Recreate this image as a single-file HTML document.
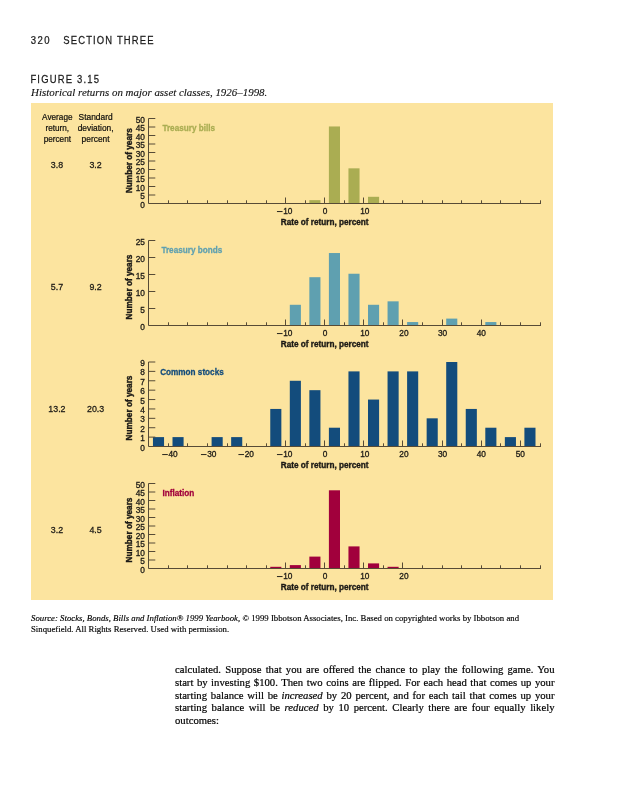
<!DOCTYPE html>
<html><head><meta charset="utf-8">
<style>
html,body{margin:0;padding:0;background:#fff;}
body{width:617px;height:800px;position:relative;overflow:hidden;}
.abs{position:absolute;white-space:nowrap;will-change:transform;}
svg{position:absolute;left:0;top:0;will-change:transform;}
svg text{font-family:"Liberation Sans",sans-serif;}
.yl{font-size:8.3px;text-anchor:end;fill:#1c1a16;stroke:#1c1a16;stroke-width:0.3px;}
.xl{font-size:8.3px;text-anchor:middle;fill:#1c1a16;stroke:#1c1a16;stroke-width:0.3px;}
.xt{font-size:9.3px;font-weight:bold;text-anchor:middle;fill:#1c1a16;stroke:#1c1a16;stroke-width:0.4px;}
.yt{font-size:9.1px;font-weight:bold;text-anchor:middle;fill:#1c1a16;stroke:#1c1a16;stroke-width:0.4px;}
.ct{font-size:9.4px;font-weight:bold;stroke-width:0.3px;}
.lh{font-size:8.6px;text-anchor:middle;fill:#0e0d0b;stroke:#0e0d0b;stroke-width:0.2px;}
.lv{font-size:8.6px;text-anchor:middle;fill:#1c1a16;stroke:#1c1a16;stroke-width:0.25px;}
.hdr{font-size:11px;fill:#1a1a1a;stroke:#1a1a1a;stroke-width:0.25px;}
.cap{font-family:"Liberation Serif",serif !important;font-style:italic;font-size:11px;fill:#111;stroke:#111;stroke-width:0.12px;}
.src{font-family:"Liberation Serif",serif;font-size:8.75px;color:#000;-webkit-text-stroke:0.15px #000;line-height:10.9px;}
.body{font-family:"Liberation Serif",serif;font-size:10.7px;color:#000;-webkit-text-stroke:0.2px #000;line-height:12.75px;width:379.5px;}
.body div{text-align:justify;text-align-last:justify;white-space:nowrap;}
.body div.last{text-align-last:left;}
</style></head><body>
<svg width="617" height="800" viewBox="0 0 617 800">
<rect x="31" y="103" width="522" height="497" fill="#FCE49F"/>
<rect x="309.35" y="200.15" width="11.10" height="3.35" fill="#AAAD52"/>
<rect x="328.90" y="126.47" width="11.10" height="77.03" fill="#AAAD52"/>
<rect x="348.45" y="168.34" width="11.10" height="35.16" fill="#AAAD52"/>
<rect x="368.00" y="196.80" width="11.10" height="6.70" fill="#AAAD52"/>
<path d="M148.5 118.50V203.50H541.0" fill="none" stroke="#574b36" stroke-width="1"/>
<text x="144.90" y="207.50" class="yl" >0</text>
<line x1="148.5" y1="195.00" x2="155.3" y2="195.00" stroke="#574b36" stroke-width="1"/>
<text x="144.90" y="199.00" class="yl" >5</text>
<line x1="148.5" y1="186.50" x2="155.3" y2="186.50" stroke="#574b36" stroke-width="1"/>
<text x="144.90" y="190.50" class="yl" >10</text>
<line x1="148.5" y1="178.00" x2="155.3" y2="178.00" stroke="#574b36" stroke-width="1"/>
<text x="144.90" y="182.00" class="yl" >15</text>
<line x1="148.5" y1="169.50" x2="155.3" y2="169.50" stroke="#574b36" stroke-width="1"/>
<text x="144.90" y="173.50" class="yl" >20</text>
<line x1="148.5" y1="161.00" x2="155.3" y2="161.00" stroke="#574b36" stroke-width="1"/>
<text x="144.90" y="165.00" class="yl" >25</text>
<line x1="148.5" y1="152.50" x2="155.3" y2="152.50" stroke="#574b36" stroke-width="1"/>
<text x="144.90" y="156.50" class="yl" >30</text>
<line x1="148.5" y1="144.00" x2="155.3" y2="144.00" stroke="#574b36" stroke-width="1"/>
<text x="144.90" y="148.00" class="yl" >35</text>
<line x1="148.5" y1="135.50" x2="155.3" y2="135.50" stroke="#574b36" stroke-width="1"/>
<text x="144.90" y="139.50" class="yl" >40</text>
<line x1="148.5" y1="127.00" x2="155.3" y2="127.00" stroke="#574b36" stroke-width="1"/>
<text x="144.90" y="131.00" class="yl" >45</text>
<line x1="148.5" y1="118.50" x2="155.3" y2="118.50" stroke="#574b36" stroke-width="1"/>
<text x="144.90" y="122.50" class="yl" >50</text>
<line x1="168.50" y1="203.50" x2="168.50" y2="200.30" stroke="#574b36" stroke-width="1"/>
<line x1="187.50" y1="203.50" x2="187.50" y2="200.30" stroke="#574b36" stroke-width="1"/>
<line x1="207.50" y1="203.50" x2="207.50" y2="200.30" stroke="#574b36" stroke-width="1"/>
<line x1="227.50" y1="203.50" x2="227.50" y2="200.30" stroke="#574b36" stroke-width="1"/>
<line x1="246.50" y1="203.50" x2="246.50" y2="200.30" stroke="#574b36" stroke-width="1"/>
<line x1="266.50" y1="203.50" x2="266.50" y2="200.30" stroke="#574b36" stroke-width="1"/>
<line x1="285.50" y1="203.50" x2="285.50" y2="197.50" stroke="#574b36" stroke-width="1"/>
<line x1="305.50" y1="203.50" x2="305.50" y2="200.30" stroke="#574b36" stroke-width="1"/>
<line x1="324.50" y1="203.50" x2="324.50" y2="197.50" stroke="#574b36" stroke-width="1"/>
<line x1="344.50" y1="203.50" x2="344.50" y2="200.30" stroke="#574b36" stroke-width="1"/>
<line x1="363.50" y1="203.50" x2="363.50" y2="197.50" stroke="#574b36" stroke-width="1"/>
<line x1="383.50" y1="203.50" x2="383.50" y2="200.30" stroke="#574b36" stroke-width="1"/>
<line x1="402.50" y1="203.50" x2="402.50" y2="200.30" stroke="#574b36" stroke-width="1"/>
<line x1="422.50" y1="203.50" x2="422.50" y2="200.30" stroke="#574b36" stroke-width="1"/>
<line x1="442.50" y1="203.50" x2="442.50" y2="200.30" stroke="#574b36" stroke-width="1"/>
<line x1="461.50" y1="203.50" x2="461.50" y2="200.30" stroke="#574b36" stroke-width="1"/>
<line x1="481.50" y1="203.50" x2="481.50" y2="200.30" stroke="#574b36" stroke-width="1"/>
<line x1="500.50" y1="203.50" x2="500.50" y2="200.30" stroke="#574b36" stroke-width="1"/>
<line x1="520.50" y1="203.50" x2="520.50" y2="200.30" stroke="#574b36" stroke-width="1"/>
<line x1="540.50" y1="203.50" x2="540.50" y2="200.30" stroke="#574b36" stroke-width="1"/>
<text x="287.85" y="214.20" class="xl" >10</text>
<rect x="276.95" y="211.10" width="5.6" height="0.95" fill="#1c1a16"/>
<text x="325.00" y="214.20" class="xl" >0</text>
<text x="364.85" y="214.20" class="xl" >10</text>
<text transform="translate(324.70 225.30) scale(0.88 1)" class="xt" >Rate of return, percent</text>
<text transform="translate(131.8 160.70) rotate(-90) scale(0.905 1)" class="yt">Number of years</text>
<text transform="translate(162.40 131.30) scale(0.87 1)" class="ct" fill="#AAAD52" stroke="#AAAD52">Treasury bills</text>
<text transform="translate(56.90 168.40) scale(1.03 1)" class="lv" >3.8</text>
<text transform="translate(95.60 168.40) scale(1.03 1)" class="lv" >3.2</text>
<rect x="289.80" y="304.79" width="11.10" height="20.71" fill="#5FA0B0"/>
<rect x="309.35" y="277.19" width="11.10" height="48.31" fill="#5FA0B0"/>
<rect x="328.90" y="253.03" width="11.10" height="72.47" fill="#5FA0B0"/>
<rect x="348.45" y="273.74" width="11.10" height="51.76" fill="#5FA0B0"/>
<rect x="368.00" y="304.79" width="11.10" height="20.71" fill="#5FA0B0"/>
<rect x="387.55" y="301.34" width="11.10" height="24.16" fill="#5FA0B0"/>
<rect x="407.10" y="322.05" width="11.10" height="3.45" fill="#5FA0B0"/>
<rect x="446.20" y="318.60" width="11.10" height="6.90" fill="#5FA0B0"/>
<rect x="485.30" y="322.05" width="11.10" height="3.45" fill="#5FA0B0"/>
<path d="M148.5 240.50V325.50H541.0" fill="none" stroke="#574b36" stroke-width="1"/>
<text x="144.90" y="329.50" class="yl" >0</text>
<line x1="148.5" y1="308.50" x2="155.3" y2="308.50" stroke="#574b36" stroke-width="1"/>
<text x="144.90" y="312.50" class="yl" >5</text>
<line x1="148.5" y1="291.50" x2="155.3" y2="291.50" stroke="#574b36" stroke-width="1"/>
<text x="144.90" y="295.50" class="yl" >10</text>
<line x1="148.5" y1="274.50" x2="155.3" y2="274.50" stroke="#574b36" stroke-width="1"/>
<text x="144.90" y="278.50" class="yl" >15</text>
<line x1="148.5" y1="257.50" x2="155.3" y2="257.50" stroke="#574b36" stroke-width="1"/>
<text x="144.90" y="261.50" class="yl" >20</text>
<line x1="148.5" y1="240.50" x2="155.3" y2="240.50" stroke="#574b36" stroke-width="1"/>
<text x="144.90" y="244.50" class="yl" >25</text>
<line x1="168.50" y1="325.50" x2="168.50" y2="322.30" stroke="#574b36" stroke-width="1"/>
<line x1="187.50" y1="325.50" x2="187.50" y2="322.30" stroke="#574b36" stroke-width="1"/>
<line x1="207.50" y1="325.50" x2="207.50" y2="322.30" stroke="#574b36" stroke-width="1"/>
<line x1="227.50" y1="325.50" x2="227.50" y2="322.30" stroke="#574b36" stroke-width="1"/>
<line x1="246.50" y1="325.50" x2="246.50" y2="322.30" stroke="#574b36" stroke-width="1"/>
<line x1="266.50" y1="325.50" x2="266.50" y2="322.30" stroke="#574b36" stroke-width="1"/>
<line x1="285.50" y1="325.50" x2="285.50" y2="319.50" stroke="#574b36" stroke-width="1"/>
<line x1="305.50" y1="325.50" x2="305.50" y2="322.30" stroke="#574b36" stroke-width="1"/>
<line x1="324.50" y1="325.50" x2="324.50" y2="319.50" stroke="#574b36" stroke-width="1"/>
<line x1="344.50" y1="325.50" x2="344.50" y2="322.30" stroke="#574b36" stroke-width="1"/>
<line x1="363.50" y1="325.50" x2="363.50" y2="319.50" stroke="#574b36" stroke-width="1"/>
<line x1="383.50" y1="325.50" x2="383.50" y2="322.30" stroke="#574b36" stroke-width="1"/>
<line x1="402.50" y1="325.50" x2="402.50" y2="319.50" stroke="#574b36" stroke-width="1"/>
<line x1="422.50" y1="325.50" x2="422.50" y2="322.30" stroke="#574b36" stroke-width="1"/>
<line x1="442.50" y1="325.50" x2="442.50" y2="319.50" stroke="#574b36" stroke-width="1"/>
<line x1="461.50" y1="325.50" x2="461.50" y2="322.30" stroke="#574b36" stroke-width="1"/>
<line x1="481.50" y1="325.50" x2="481.50" y2="319.50" stroke="#574b36" stroke-width="1"/>
<line x1="500.50" y1="325.50" x2="500.50" y2="322.30" stroke="#574b36" stroke-width="1"/>
<line x1="520.50" y1="325.50" x2="520.50" y2="322.30" stroke="#574b36" stroke-width="1"/>
<line x1="540.50" y1="325.50" x2="540.50" y2="322.30" stroke="#574b36" stroke-width="1"/>
<text x="287.85" y="336.20" class="xl" >10</text>
<rect x="276.95" y="333.10" width="5.6" height="0.95" fill="#1c1a16"/>
<text x="325.00" y="336.20" class="xl" >0</text>
<text x="364.85" y="336.20" class="xl" >10</text>
<text x="403.90" y="336.20" class="xl" >20</text>
<text x="442.55" y="336.20" class="xl" >30</text>
<text x="481.30" y="336.20" class="xl" >40</text>
<text transform="translate(324.70 347.30) scale(0.88 1)" class="xt" >Rate of return, percent</text>
<text transform="translate(131.8 287.00) rotate(-90) scale(0.905 1)" class="yt">Number of years</text>
<text transform="translate(161.40 253.30) scale(0.87 1)" class="ct" fill="#5FA0B0" stroke="#5FA0B0">Treasury bonds</text>
<text transform="translate(56.90 290.40) scale(1.03 1)" class="lv" >5.7</text>
<text transform="translate(95.60 290.40) scale(1.03 1)" class="lv" >9.2</text>
<rect x="152.95" y="437.11" width="11.10" height="9.39" fill="#134C7C"/>
<rect x="172.50" y="437.11" width="11.10" height="9.39" fill="#134C7C"/>
<rect x="211.60" y="437.11" width="11.10" height="9.39" fill="#134C7C"/>
<rect x="231.15" y="437.11" width="11.10" height="9.39" fill="#134C7C"/>
<rect x="270.25" y="408.94" width="11.10" height="37.56" fill="#134C7C"/>
<rect x="289.80" y="380.78" width="11.10" height="65.72" fill="#134C7C"/>
<rect x="309.35" y="390.17" width="11.10" height="56.33" fill="#134C7C"/>
<rect x="328.90" y="427.72" width="11.10" height="18.78" fill="#134C7C"/>
<rect x="348.45" y="371.39" width="11.10" height="75.11" fill="#134C7C"/>
<rect x="368.00" y="399.56" width="11.10" height="46.94" fill="#134C7C"/>
<rect x="387.55" y="371.39" width="11.10" height="75.11" fill="#134C7C"/>
<rect x="407.10" y="371.39" width="11.10" height="75.11" fill="#134C7C"/>
<rect x="426.65" y="418.33" width="11.10" height="28.17" fill="#134C7C"/>
<rect x="446.20" y="362.00" width="11.10" height="84.50" fill="#134C7C"/>
<rect x="465.75" y="408.94" width="11.10" height="37.56" fill="#134C7C"/>
<rect x="485.30" y="427.72" width="11.10" height="18.78" fill="#134C7C"/>
<rect x="504.85" y="437.11" width="11.10" height="9.39" fill="#134C7C"/>
<rect x="524.40" y="427.72" width="11.10" height="18.78" fill="#134C7C"/>
<path d="M148.5 362.00V446.50H541.0" fill="none" stroke="#574b36" stroke-width="1"/>
<text x="144.90" y="450.50" class="yl" >0</text>
<line x1="148.5" y1="437.11" x2="155.3" y2="437.11" stroke="#574b36" stroke-width="1"/>
<text x="144.90" y="441.11" class="yl" >1</text>
<line x1="148.5" y1="427.72" x2="155.3" y2="427.72" stroke="#574b36" stroke-width="1"/>
<text x="144.90" y="431.72" class="yl" >2</text>
<line x1="148.5" y1="418.33" x2="155.3" y2="418.33" stroke="#574b36" stroke-width="1"/>
<text x="144.90" y="422.33" class="yl" >3</text>
<line x1="148.5" y1="408.94" x2="155.3" y2="408.94" stroke="#574b36" stroke-width="1"/>
<text x="144.90" y="412.94" class="yl" >4</text>
<line x1="148.5" y1="399.56" x2="155.3" y2="399.56" stroke="#574b36" stroke-width="1"/>
<text x="144.90" y="403.56" class="yl" >5</text>
<line x1="148.5" y1="390.17" x2="155.3" y2="390.17" stroke="#574b36" stroke-width="1"/>
<text x="144.90" y="394.17" class="yl" >6</text>
<line x1="148.5" y1="380.78" x2="155.3" y2="380.78" stroke="#574b36" stroke-width="1"/>
<text x="144.90" y="384.78" class="yl" >7</text>
<line x1="148.5" y1="371.39" x2="155.3" y2="371.39" stroke="#574b36" stroke-width="1"/>
<text x="144.90" y="375.39" class="yl" >8</text>
<line x1="148.5" y1="362.00" x2="155.3" y2="362.00" stroke="#574b36" stroke-width="1"/>
<text x="144.90" y="366.00" class="yl" >9</text>
<line x1="168.50" y1="446.50" x2="168.50" y2="443.30" stroke="#574b36" stroke-width="1"/>
<line x1="187.50" y1="446.50" x2="187.50" y2="443.30" stroke="#574b36" stroke-width="1"/>
<line x1="207.50" y1="446.50" x2="207.50" y2="443.30" stroke="#574b36" stroke-width="1"/>
<line x1="227.50" y1="446.50" x2="227.50" y2="443.30" stroke="#574b36" stroke-width="1"/>
<line x1="246.50" y1="446.50" x2="246.50" y2="443.30" stroke="#574b36" stroke-width="1"/>
<line x1="266.50" y1="446.50" x2="266.50" y2="443.30" stroke="#574b36" stroke-width="1"/>
<line x1="285.50" y1="446.50" x2="285.50" y2="440.50" stroke="#574b36" stroke-width="1"/>
<line x1="305.50" y1="446.50" x2="305.50" y2="443.30" stroke="#574b36" stroke-width="1"/>
<line x1="324.50" y1="446.50" x2="324.50" y2="440.50" stroke="#574b36" stroke-width="1"/>
<line x1="344.50" y1="446.50" x2="344.50" y2="443.30" stroke="#574b36" stroke-width="1"/>
<line x1="363.50" y1="446.50" x2="363.50" y2="440.50" stroke="#574b36" stroke-width="1"/>
<line x1="383.50" y1="446.50" x2="383.50" y2="443.30" stroke="#574b36" stroke-width="1"/>
<line x1="402.50" y1="446.50" x2="402.50" y2="440.50" stroke="#574b36" stroke-width="1"/>
<line x1="422.50" y1="446.50" x2="422.50" y2="443.30" stroke="#574b36" stroke-width="1"/>
<line x1="442.50" y1="446.50" x2="442.50" y2="440.50" stroke="#574b36" stroke-width="1"/>
<line x1="461.50" y1="446.50" x2="461.50" y2="443.30" stroke="#574b36" stroke-width="1"/>
<line x1="481.50" y1="446.50" x2="481.50" y2="440.50" stroke="#574b36" stroke-width="1"/>
<line x1="500.50" y1="446.50" x2="500.50" y2="443.30" stroke="#574b36" stroke-width="1"/>
<line x1="520.50" y1="446.50" x2="520.50" y2="440.50" stroke="#574b36" stroke-width="1"/>
<line x1="540.50" y1="446.50" x2="540.50" y2="443.30" stroke="#574b36" stroke-width="1"/>
<text x="173.10" y="457.20" class="xl" >40</text>
<rect x="162.20" y="454.10" width="5.6" height="0.95" fill="#1c1a16"/>
<text x="211.85" y="457.20" class="xl" >30</text>
<rect x="200.95" y="454.10" width="5.6" height="0.95" fill="#1c1a16"/>
<text x="249.30" y="457.20" class="xl" >20</text>
<rect x="238.40" y="454.10" width="5.6" height="0.95" fill="#1c1a16"/>
<text x="287.85" y="457.20" class="xl" >10</text>
<rect x="276.95" y="454.10" width="5.6" height="0.95" fill="#1c1a16"/>
<text x="325.00" y="457.20" class="xl" >0</text>
<text x="364.85" y="457.20" class="xl" >10</text>
<text x="403.90" y="457.20" class="xl" >20</text>
<text x="442.55" y="457.20" class="xl" >30</text>
<text x="481.30" y="457.20" class="xl" >40</text>
<text x="520.35" y="457.20" class="xl" >50</text>
<text transform="translate(324.70 468.30) scale(0.88 1)" class="xt" >Rate of return, percent</text>
<text transform="translate(131.8 408.00) rotate(-90) scale(0.905 1)" class="yt">Number of years</text>
<text transform="translate(160.20 374.80) scale(0.87 1)" class="ct" fill="#134C7C" stroke="#134C7C">Common stocks</text>
<text transform="translate(56.90 411.65) scale(1.03 1)" class="lv" >13.2</text>
<text transform="translate(95.60 411.65) scale(1.03 1)" class="lv" >20.3</text>
<rect x="270.25" y="566.80" width="11.10" height="1.70" fill="#A1003C"/>
<rect x="289.80" y="565.10" width="11.10" height="3.40" fill="#A1003C"/>
<rect x="309.35" y="556.60" width="11.10" height="11.90" fill="#A1003C"/>
<rect x="328.90" y="490.30" width="11.10" height="78.20" fill="#A1003C"/>
<rect x="348.45" y="546.40" width="11.10" height="22.10" fill="#A1003C"/>
<rect x="368.00" y="563.40" width="11.10" height="5.10" fill="#A1003C"/>
<rect x="387.55" y="566.80" width="11.10" height="1.70" fill="#A1003C"/>
<path d="M148.5 483.50V568.50H541.0" fill="none" stroke="#574b36" stroke-width="1"/>
<text x="144.90" y="572.50" class="yl" >0</text>
<line x1="148.5" y1="560.00" x2="155.3" y2="560.00" stroke="#574b36" stroke-width="1"/>
<text x="144.90" y="564.00" class="yl" >5</text>
<line x1="148.5" y1="551.50" x2="155.3" y2="551.50" stroke="#574b36" stroke-width="1"/>
<text x="144.90" y="555.50" class="yl" >10</text>
<line x1="148.5" y1="543.00" x2="155.3" y2="543.00" stroke="#574b36" stroke-width="1"/>
<text x="144.90" y="547.00" class="yl" >15</text>
<line x1="148.5" y1="534.50" x2="155.3" y2="534.50" stroke="#574b36" stroke-width="1"/>
<text x="144.90" y="538.50" class="yl" >20</text>
<line x1="148.5" y1="526.00" x2="155.3" y2="526.00" stroke="#574b36" stroke-width="1"/>
<text x="144.90" y="530.00" class="yl" >25</text>
<line x1="148.5" y1="517.50" x2="155.3" y2="517.50" stroke="#574b36" stroke-width="1"/>
<text x="144.90" y="521.50" class="yl" >30</text>
<line x1="148.5" y1="509.00" x2="155.3" y2="509.00" stroke="#574b36" stroke-width="1"/>
<text x="144.90" y="513.00" class="yl" >35</text>
<line x1="148.5" y1="500.50" x2="155.3" y2="500.50" stroke="#574b36" stroke-width="1"/>
<text x="144.90" y="504.50" class="yl" >40</text>
<line x1="148.5" y1="492.00" x2="155.3" y2="492.00" stroke="#574b36" stroke-width="1"/>
<text x="144.90" y="496.00" class="yl" >45</text>
<line x1="148.5" y1="483.50" x2="155.3" y2="483.50" stroke="#574b36" stroke-width="1"/>
<text x="144.90" y="487.50" class="yl" >50</text>
<line x1="168.50" y1="568.50" x2="168.50" y2="565.30" stroke="#574b36" stroke-width="1"/>
<line x1="187.50" y1="568.50" x2="187.50" y2="565.30" stroke="#574b36" stroke-width="1"/>
<line x1="207.50" y1="568.50" x2="207.50" y2="565.30" stroke="#574b36" stroke-width="1"/>
<line x1="227.50" y1="568.50" x2="227.50" y2="565.30" stroke="#574b36" stroke-width="1"/>
<line x1="246.50" y1="568.50" x2="246.50" y2="565.30" stroke="#574b36" stroke-width="1"/>
<line x1="266.50" y1="568.50" x2="266.50" y2="565.30" stroke="#574b36" stroke-width="1"/>
<line x1="285.50" y1="568.50" x2="285.50" y2="562.50" stroke="#574b36" stroke-width="1"/>
<line x1="305.50" y1="568.50" x2="305.50" y2="565.30" stroke="#574b36" stroke-width="1"/>
<line x1="324.50" y1="568.50" x2="324.50" y2="562.50" stroke="#574b36" stroke-width="1"/>
<line x1="344.50" y1="568.50" x2="344.50" y2="565.30" stroke="#574b36" stroke-width="1"/>
<line x1="363.50" y1="568.50" x2="363.50" y2="562.50" stroke="#574b36" stroke-width="1"/>
<line x1="383.50" y1="568.50" x2="383.50" y2="565.30" stroke="#574b36" stroke-width="1"/>
<line x1="402.50" y1="568.50" x2="402.50" y2="562.50" stroke="#574b36" stroke-width="1"/>
<line x1="422.50" y1="568.50" x2="422.50" y2="565.30" stroke="#574b36" stroke-width="1"/>
<line x1="442.50" y1="568.50" x2="442.50" y2="565.30" stroke="#574b36" stroke-width="1"/>
<line x1="461.50" y1="568.50" x2="461.50" y2="565.30" stroke="#574b36" stroke-width="1"/>
<line x1="481.50" y1="568.50" x2="481.50" y2="565.30" stroke="#574b36" stroke-width="1"/>
<line x1="500.50" y1="568.50" x2="500.50" y2="565.30" stroke="#574b36" stroke-width="1"/>
<line x1="520.50" y1="568.50" x2="520.50" y2="565.30" stroke="#574b36" stroke-width="1"/>
<line x1="540.50" y1="568.50" x2="540.50" y2="565.30" stroke="#574b36" stroke-width="1"/>
<text x="287.85" y="579.20" class="xl" >10</text>
<rect x="276.95" y="576.10" width="5.6" height="0.95" fill="#1c1a16"/>
<text x="325.00" y="579.20" class="xl" >0</text>
<text x="364.85" y="579.20" class="xl" >10</text>
<text x="403.90" y="579.20" class="xl" >20</text>
<text transform="translate(324.70 590.30) scale(0.88 1)" class="xt" >Rate of return, percent</text>
<text transform="translate(131.8 530.00) rotate(-90) scale(0.905 1)" class="yt">Number of years</text>
<text transform="translate(162.40 496.30) scale(0.87 1)" class="ct" fill="#A1003C" stroke="#A1003C">Inflation</text>
<text transform="translate(56.90 533.40) scale(1.03 1)" class="lv" >3.2</text>
<text transform="translate(95.60 533.40) scale(1.03 1)" class="lv" >4.5</text>
<text transform="translate(57.30 120.40) scale(0.955 1)" class="lh" >Average</text>
<text transform="translate(95.60 120.40) scale(0.975 1)" class="lh" >Standard</text>
<text transform="translate(57.30 131.25) scale(0.955 1)" class="lh" >return,</text>
<text transform="translate(95.60 131.25) scale(0.975 1)" class="lh" >deviation,</text>
<text transform="translate(57.30 142.10) scale(0.955 1)" class="lh" >percent</text>
<text transform="translate(95.60 142.10) scale(0.975 1)" class="lh" >percent</text>
<text transform="translate(30.7 43.8) scale(0.9 1)" class="hdr" style="font-size:10.6px" textLength="21.00" lengthAdjust="spacing">320</text>
<text transform="translate(63.3 44) scale(0.86 1)" class="hdr" textLength="104.88" lengthAdjust="spacing">SECTION THREE</text>
<text transform="translate(30.4 83.4) scale(0.86 1)" class="hdr" textLength="79.65" lengthAdjust="spacing">FIGURE 3.15</text>
<text x="31" y="95.6" class="cap" textLength="236.3" lengthAdjust="spacingAndGlyphs">Historical returns on major asset classes, 1926&#8211;1998.</text>
</svg>
<div class="abs src" style="left:31px;top:612.5px;"><i>Source: Stocks, Bonds, Bills and Inflation&#174; 1999 Yearbook,</i> &#169; 1999 Ibbotson Associates, Inc. Based on copyrighted works by Ibbotson and<br>Sinquefield. All Rights Reserved. Used with permission.</div>
<div class="abs body" style="left:174.5px;top:663px;">
<div>calculated. Suppose that you are offered the chance to play the following game. You</div>
<div>start by investing $100. Then two coins are flipped. For each head that comes up your</div>
<div>starting balance will be <i>increased</i> by 20 percent, and for each tail that comes up your</div>
<div>starting balance will be <i>reduced</i> by 10 percent. Clearly there are four equally likely</div>
<div class="last">outcomes:</div>
</div>
</body></html>
